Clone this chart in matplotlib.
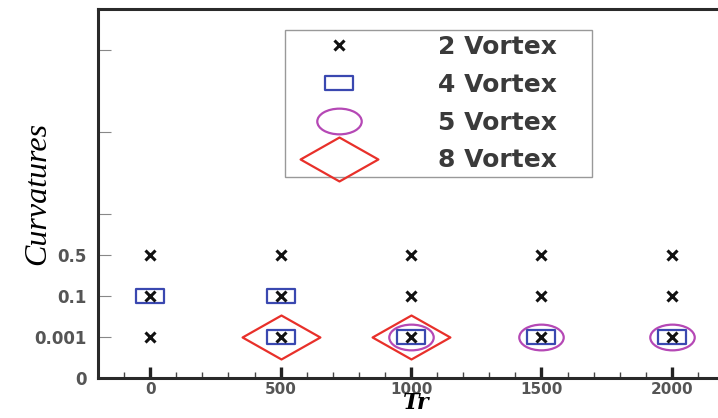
import matplotlib
matplotlib.use("Agg")
import matplotlib.pyplot as plt
from matplotlib.path import Path
from matplotlib.lines import Line2D
from matplotlib.ticker import MultipleLocator, FixedLocator
from matplotlib.transforms import Affine2D

# curvature levels shown on the y axis (categorical, bottom to top)
curv_levels = ['0', '0.001', '0.1', '0.5']
tr_ticks = [0, 500, 1000, 1500, 2000]

vortex2_tr = [0, 0, 0, 500, 500, 500, 1000, 1000, 1000, 1500, 1500, 1500, 2000, 2000, 2000]
vortex2_curv = ['0.5', '0.1', '0.001'] * 5
vortex4_tr = [0, 500, 500, 1000, 1500, 2000]
vortex4_curv = ['0.1', '0.1', '0.001', '0.001', '0.001', '0.001']
vortex5_tr = [1000, 1500, 2000]
vortex5_curv = ['0.001', '0.001', '0.001']
vortex8_tr = [500, 1000]
vortex8_curv = ['0.001', '0.001']

level_pos = {lvl: i for i, lvl in enumerate(curv_levels)}

# wide marker shapes
rect = Path([(-1.93, -1), (1.93, -1), (1.93, 1), (-1.93, 1), (-1.93, -1)],
            [Path.MOVETO, Path.LINETO, Path.LINETO, Path.LINETO, Path.CLOSEPOLY])
ellipse = Affine2D().scale(1.73, 1.0).transform_path(Path.unit_circle())
diamond = Path([(-1.77, 0), (0, 1), (1.77, 0), (0, -1), (-1.77, 0)],
               [Path.MOVETO, Path.LINETO, Path.LINETO, Path.LINETO, Path.CLOSEPOLY])

styles = {
    '2 Vortex': dict(marker='x', ms=7, mew=2.2, color='#111111'),
    '4 Vortex': dict(marker=rect, ms=19.5, mew=1.6, color='#3a48b0', mfc='none'),
    '5 Vortex': dict(marker=ellipse, ms=32, mew=1.6, color='#b548b5', mfc='none'),
    '8 Vortex': dict(marker=diamond, ms=56, mew=1.6, color='#e8302a', mfc='none'),
}
names = ['2 Vortex', '4 Vortex', '5 Vortex', '8 Vortex']

fig = plt.figure(figsize=(7.18, 4.18), dpi=100)
ax = fig.add_axes([98 / 718, 40 / 418, (724 - 98) / 718, (378 - 9) / 418])

series = [
    ('8 Vortex', vortex8_tr, vortex8_curv),
    ('5 Vortex', vortex5_tr, vortex5_curv),
    ('4 Vortex', vortex4_tr, vortex4_curv),
    ('2 Vortex', vortex2_tr, vortex2_curv),
]
for name, xs, cs in series:
    ax.plot(xs, [level_pos[c] for c in cs], linestyle='none', **styles[name])

ax.set_xlim(-200, 2200)
ax.set_ylim(0, 9)

ax.set_xticks(tr_ticks)
ax.xaxis.set_minor_locator(MultipleLocator(100))
ax.yaxis.set_major_locator(FixedLocator([0, 1, 2, 3, 4, 6, 8]))
ax.set_yticklabels(curv_levels + ['', '', ''])

ax.tick_params(axis='x', which='major', direction='in', length=8, width=2.4,
               color='#222222', labelsize=11, labelcolor='#555555', pad=3)
ax.tick_params(axis='x', which='minor', direction='in', length=4, width=1.0,
               color='#444444')
ax.tick_params(axis='y', direction='in', length=9, width=0.8, color='#888888',
               labelsize=12, labelcolor='#555555', pad=8)
for lbl in ax.get_xticklabels() + ax.get_yticklabels():
    lbl.set_fontweight('bold')

for side in ['left', 'bottom', 'top']:
    ax.spines[side].set_linewidth(2.2)
    ax.spines[side].set_color('#2a2a2a')
ax.spines['right'].set_visible(False)

ax.set_ylabel('Curvatures', family='Liberation Serif', style='italic',
              fontsize=23)
ax.yaxis.set_label_coords((52 - 98) / 626, 0.5)
ax.set_xlabel('Tr', family='DejaVu Serif', style='italic', weight='bold',
              fontsize=16)
ax.xaxis.set_label_coords((416 - 98) / 626, (378 - 392) / 369)
ax.xaxis.label.set_verticalalignment('top')

handles = [Line2D([], [], linestyle='none', **styles[n]) for n in names]
leg = ax.legend(handles, names, loc='upper left', mode='expand',
                bbox_to_anchor=(285 / 718, (418 - 190) / 418, 307 / 718, 160 / 418),
                bbox_transform=fig.transFigure, borderaxespad=0,
                prop={'family': 'DejaVu Sans', 'weight': 'bold', 'size': 18},
                handlelength=3.88, handletextpad=2.06, borderpad=0.2,
                labelspacing=0.55, fancybox=False, framealpha=1)
leg.get_frame().set_edgecolor('#999999')
leg.get_frame().set_linewidth(1.0)
for t in leg.get_texts():
    t.set_color('#3a3a3a')

fig.savefig('out.png', dpi=100)
